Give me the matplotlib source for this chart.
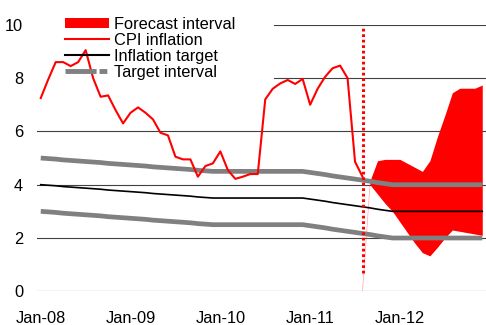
import matplotlib
matplotlib.use('Agg')
import matplotlib.pyplot as plt
import numpy as np
import pandas as pd
from matplotlib.lines import Line2D
from matplotlib.patches import Patch, Rectangle

plt.rcParams['font.family'] = ['Liberation Sans', 'DejaVu Sans']

# monthly category axis, Jan-08 .. Dec-12
months = pd.date_range('2008-01-01', periods=60, freq='MS')
tick_labels = ['Jan-08', 'Jan-09', 'Jan-10', 'Jan-11', 'Jan-12']

cpi = [7.25, 7.95, 8.6, 8.6, 8.45, 8.6, 9.05, 8.0, 7.3, 7.35, 6.8, 6.3,
       6.7, 6.9, 6.7, 6.45, 5.95, 5.85, 5.05, 4.95, 4.95, 4.3, 4.7, 4.8,
       5.25, 4.55, 4.22, 4.3, 4.4, 4.4, 7.2, 7.6, 7.8, 7.93, 7.78, 7.97,
       7.0, 7.6, 8.05, 8.37, 8.47, 8.0, 4.86, 4.3]

target = [4.00, 3.98, 3.96, 3.93, 3.91, 3.89, 3.87, 3.85, 3.83, 3.80, 3.78, 3.76,
          3.74, 3.72, 3.70, 3.67, 3.65, 3.63, 3.61, 3.59, 3.57, 3.54, 3.52, 3.50,
          3.50, 3.50, 3.50, 3.50, 3.50, 3.50, 3.50, 3.50, 3.50, 3.50, 3.50, 3.50,
          3.46, 3.42, 3.38, 3.33, 3.29, 3.25, 3.21, 3.17, 3.13, 3.08, 3.04, 3.00,
          3.00, 3.00, 3.00, 3.00, 3.00, 3.00, 3.00, 3.00, 3.00, 3.00, 3.00, 3.00]

target_hi = [5.00, 4.98, 4.96, 4.93, 4.91, 4.89, 4.87, 4.85, 4.83, 4.80, 4.78, 4.76,
             4.74, 4.72, 4.70, 4.67, 4.65, 4.63, 4.61, 4.59, 4.57, 4.54, 4.52, 4.50,
             4.50, 4.50, 4.50, 4.50, 4.50, 4.50, 4.50, 4.50, 4.50, 4.50, 4.50, 4.50,
             4.46, 4.42, 4.38, 4.33, 4.29, 4.25, 4.21, 4.17, 4.13, 4.08, 4.04, 4.00,
             4.00, 4.00, 4.00, 4.00, 4.00, 4.00, 4.00, 4.00, 4.00, 4.00, 4.00, 4.00]

target_lo = [3.00, 2.98, 2.96, 2.93, 2.91, 2.89, 2.87, 2.85, 2.83, 2.80, 2.78, 2.76,
             2.74, 2.72, 2.70, 2.67, 2.65, 2.63, 2.61, 2.59, 2.57, 2.54, 2.52, 2.50,
             2.50, 2.50, 2.50, 2.50, 2.50, 2.50, 2.50, 2.50, 2.50, 2.50, 2.50, 2.50,
             2.46, 2.42, 2.38, 2.33, 2.29, 2.25, 2.21, 2.17, 2.13, 2.08, 2.04, 2.00,
             2.00, 2.00, 2.00, 2.00, 2.00, 2.00, 2.00, 2.00, 2.00, 2.00, 2.00, 2.00]

# forecast interval, Aug-11 (blank) then Sep-11 .. Dec-12
band_hi = [0.0, 4.15, 4.9, 4.95, 4.95, 4.95, 4.8, 4.65, 4.5, 4.9, 5.8, 6.6,
           7.45, 7.62, 7.62, 7.62, 7.74]
band_lo = [0.0, 4.0, 3.65, 3.3, 3.0, 2.6, 2.2, 1.8, 1.45, 1.33, 1.65, 2.0,
           2.3, 2.25, 2.2, 2.15, 2.1]
forecast_start = '2011-08'

x = np.arange(len(months))
i0 = months.get_loc(pd.Timestamp(forecast_start))
xb = np.arange(i0, i0 + len(band_hi))

fig = plt.figure(figsize=(4.86, 3.25), dpi=100)
ax = fig.add_axes([37 / 486, 1 - 291.3 / 325, 449 / 486, (291.3 - 24.8) / 325])

for v in range(0, 11, 2):
    ax.axhline(v, color='#404040', lw=0.8, zorder=1)

# white box behind the legend hides the gridlines there
ax.add_patch(Rectangle((-0.7, 7.8), 31.9, 3.0, facecolor='white',
                       edgecolor='none', zorder=1.5, clip_on=False))

ax.fill_between(xb[1:], band_lo[1:], band_hi[1:], color='#ff0000', lw=0, zorder=2)
ax.plot(xb[:2], band_lo[:2], color='#ff0000', lw=0.5, alpha=0.35, zorder=2)

ax.plot(x, target_hi, color='#808080', lw=3.4, zorder=3, solid_capstyle='butt')
ax.plot(x, target_lo, color='#808080', lw=3.4, zorder=3, solid_capstyle='butt')
ax.plot(x, target, color='black', lw=1.2, zorder=4)
ax.plot(x[:len(cpi)], cpi, color='#ff0000', lw=1.5, zorder=5)

ax.plot([i0, i0], [0.7, 9.9], color='#ff0000', lw=2.2, linestyle=(0, (0.9, 0.9)), zorder=6)

ax.set_xlim(-0.5, 59.5)
ax.set_ylim(0, 10)
ax.set_yticks(range(0, 11, 2))
ax.set_yticklabels([str(v) for v in range(0, 11, 2)], fontsize=11.8)
ticks = [months.get_loc(pd.Timestamp(d)) for d in ['2008-01', '2009-01', '2010-01', '2011-01', '2012-01']]
ax.set_xticks(ticks)
ax.set_xticklabels(tick_labels, fontsize=11.8)
ax.tick_params(axis='y', length=0, pad=10)
ax.tick_params(axis='x', length=0, pad=14)
for s in ax.spines.values():
    s.set_visible(False)

handles = [Patch(facecolor='#ff0000', edgecolor='none'),
           Line2D([], [], color='#ff0000', lw=1.5),
           Line2D([], [], color='black', lw=1.5),
           Line2D([], [], color='#808080', lw=3.5, dashes=(6.4, 0.6, 1.6, 0.6))]
labels = ['Forecast interval', 'CPI inflation', 'Inflation target', 'Target interval']
leg = fig.legend(handles, labels, loc='upper left', bbox_to_anchor=(65 / 486, 1 - 17 / 325),
                 frameon=False, fontsize=11.8, handlelength=2.7, handletextpad=0.3,
                 labelspacing=0.06, borderpad=0, borderaxespad=0, handleheight=0.6)

fig.savefig('out.png', dpi=100)
